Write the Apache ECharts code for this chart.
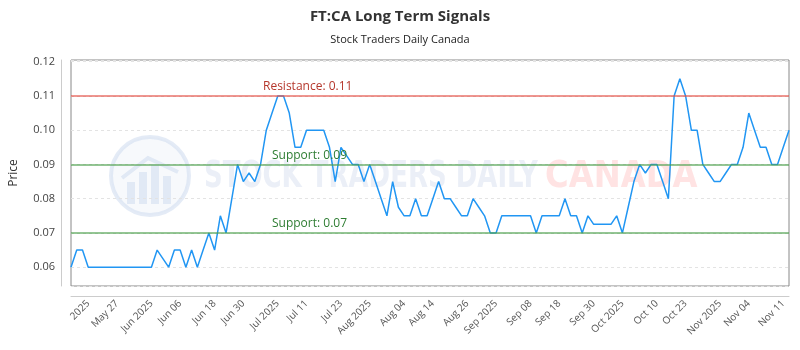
<!DOCTYPE html>
<html>
<head>
<meta charset="utf-8">
<script src="https://cdn.jsdelivr.net/npm/echarts@6/dist/echarts.min.js"></script>
<style>
  html, body { margin: 0; padding: 0; background: #fff; }
  #chart { width: 800px; height: 350px; }
</style>
</head>
<body>
<div id="chart"></div>
<script>
// closing prices, one per session
const prices = [
  0.06, 0.065, 0.065, 0.06, 0.06, 0.06, 0.06, 0.06, 0.06, 0.06,
  0.06, 0.06, 0.06, 0.06, 0.06, 0.065, 0.0625, 0.06, 0.065, 0.065,
  0.06, 0.065, 0.06, 0.065, 0.07, 0.065, 0.075, 0.07, 0.08, 0.09,
  0.085, 0.0875, 0.085, 0.09, 0.10, 0.105, 0.11, 0.11, 0.105, 0.095,
  0.095, 0.10, 0.10, 0.10, 0.10, 0.095, 0.085, 0.095, 0.0925, 0.09,
  0.09, 0.085, 0.09, 0.085, 0.08, 0.075, 0.085, 0.0775, 0.075, 0.075,
  0.08, 0.075, 0.075, 0.08, 0.085, 0.08, 0.08, 0.0775, 0.075, 0.075,
  0.08, 0.0775, 0.075, 0.07, 0.07, 0.075, 0.075, 0.075, 0.075, 0.075,
  0.075, 0.07, 0.075, 0.075, 0.075, 0.075, 0.08, 0.075, 0.075, 0.07,
  0.075, 0.0725, 0.0725, 0.0725, 0.0725, 0.075, 0.07, 0.0775, 0.085, 0.09,
  0.0875, 0.09, 0.09, 0.085, 0.08, 0.11, 0.115, 0.11, 0.10, 0.10,
  0.09, 0.0875, 0.085, 0.085, 0.0875, 0.09, 0.09, 0.095, 0.105, 0.10,
  0.095, 0.095, 0.09, 0.09, 0.095, 0.10
];

// x-axis tick labels and the session each one sits on
const tickLabels = ['2025', 'May 27', 'Jun 2025', 'Jun 06', 'Jun 18', 'Jun 30', 'Jul 2025', 'Jul 11',
  'Jul 23', 'Aug 2025', 'Aug 04', 'Aug 14', 'Aug 26', 'Sep 2025', 'Sep 08', 'Sep 18', 'Sep 30',
  'Oct 2025', 'Oct 10', 'Oct 23', 'Nov 2025', 'Nov 04', 'Nov 11'];
const tickIndex = [3, 8, 14, 19, 25, 30, 36, 41, 47, 52, 58, 63, 69, 74, 80, 85, 91, 96, 102, 107, 113, 118, 124];

const resistance = [0.11];
const supports = [0.09, 0.07];

const categories = prices.map((p, i) => {
  const k = tickIndex.indexOf(i);
  return k >= 0 ? tickLabels[k] : String(i);
});

const chart = echarts.init(document.getElementById('chart'));

let lines = [];
resistance.forEach(v => {
  lines.push({
    yAxis: v,
    lineStyle: { color: 'rgba(229,80,70,0.6)', width: 2, type: 'solid' },
    label: { formatter: 'Resistance: ' + v.toFixed(2), color: '#b5372c', distance: [192, 3] }
  });
});
supports.forEach(v => {
  lines.push({
    yAxis: v,
    lineStyle: { color: 'rgba(76,160,76,0.6)', width: 2, type: 'solid' },
    label: { formatter: 'Support: ' + v.toFixed(2), color: '#2e7d32', distance: [201, 3] }
  });
});

// faint logo watermark behind the plot
const wm = 'rgba(205,218,238,0.55)';
const logo = [
  { type: 'circle', shape: { cx: 150, cy: 176, r: 39 }, style: { fill: 'rgba(228,235,246,0.3)', stroke: wm, lineWidth: 4 } },
  { type: 'rect', shape: { x: 127, y: 182, width: 8, height: 22 }, style: { fill: wm } },
  { type: 'rect', shape: { x: 139, y: 172, width: 8, height: 32 }, style: { fill: wm } },
  { type: 'rect', shape: { x: 151, y: 164, width: 8, height: 40 }, style: { fill: wm } },
  { type: 'rect', shape: { x: 163, y: 176, width: 8, height: 28 }, style: { fill: wm } },
  { type: 'polyline', shape: { points: [[122, 178], [148, 158], [178, 172]] }, style: { stroke: wm, lineWidth: 4, fill: null } }
];

chart.setOption({
  animation: false,
  textStyle: { fontFamily: 'Open Sans' },
  title: {
    text: 'FT:CA Long Term Signals',
    subtext: 'Stock Traders Daily Canada',
    left: 'center',
    top: 4,
    itemGap: 10,
    textStyle: { fontSize: 15, fontWeight: 'bold', color: '#333', fontFamily: 'Open Sans' },
    subtextStyle: { fontSize: 11, color: '#222', fontFamily: 'Open Sans' }
  },
  graphic: logo.map(g => Object.assign({ silent: true, z: 0 }, g)).concat([
    {
      type: 'text', x: 204, y: 158, scaleX: 0.76, silent: true, z: 0,
      style: { text: 'STOCK TRADERS DAILY', font: 'bold 38px "DejaVu Sans Condensed"', fill: 'rgba(205,216,236,0.4)' }
    },
    {
      type: 'text', x: 545, y: 158, scaleX: 0.85, silent: true, z: 0,
      style: { text: 'CANADA', font: 'bold 38px "DejaVu Sans"', fill: 'rgba(255,185,185,0.4)' }
    }
  ]),
  grid: {
    left: 71, right: 11, top: 60, bottom: 64,
    show: true, borderColor: '#888', borderWidth: 1, backgroundColor: 'transparent'
  },
  xAxis: {
    type: 'category',
    data: categories,
    boundaryGap: false,
    offset: 10,
    axisLine: { lineStyle: { color: '#ccc' } },
    axisTick: { show: false },
    splitLine: { show: false },
    axisLabel: {
      interval: i => tickIndex.includes(i),
      rotate: 45,
      fontSize: 10,
      color: '#555',
      margin: 6
    }
  },
  yAxis: {
    type: 'value',
    min: 0.0545,
    max: 0.1205,
    splitNumber: 6,
    offset: 10,
    name: 'Price',
    nameLocation: 'middle',
    nameGap: 41,
    nameTextStyle: { fontSize: 12, color: '#333' },
    axisLine: { show: true, lineStyle: { color: '#ccc' } },
    axisTick: { show: false },
    axisLabel: {
      showMinLabel: false,
      showMaxLabel: false,
      fontSize: 11,
      color: '#444',
      margin: 6,
      formatter: v => v.toFixed(2)
    },
    splitLine: { show: true, lineStyle: { color: '#e3e3e3', type: [3, 3] } }
  },
  series: [{
    type: 'line',
    data: prices,
    showSymbol: false,
    symbol: 'none',
    z: 3,
    lineStyle: { color: '#2196f3', width: 1.5 },
    markLine: {
      silent: true,
      symbol: 'none',
      animation: false,
      label: { position: 'insideStartTop', fontSize: 12, fontFamily: 'Open Sans' },
      data: lines
    }
  }]
});
</script>
</body>
</html>
